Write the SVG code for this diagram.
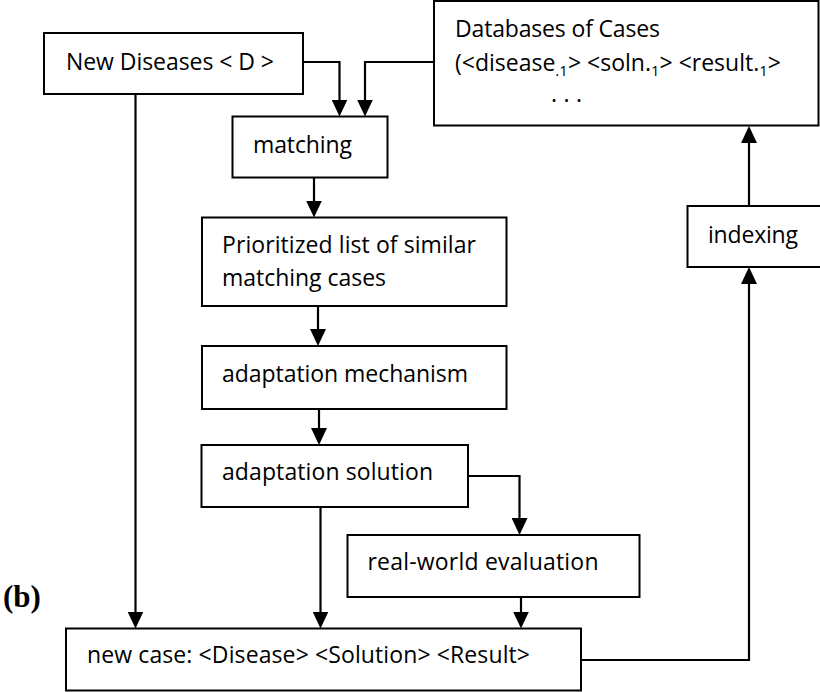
<svg xmlns="http://www.w3.org/2000/svg" width="820" height="692" viewBox="0 0 820 692">
<style>
  .box { fill: #ffffff; stroke: #000000; stroke-width: 2; }
  .lbl { font-family: "Open Sans", "Liberation Sans", sans-serif; font-size: 23px; fill: #000000; }
  .sub { font-size: 15px; }
  .conn { fill: none; stroke: #000000; stroke-width: 2.2; }
  .arr { marker-end: url(#ah); }
  .tag { font-family: "Liberation Serif", "Times New Roman", serif; font-weight: bold; font-size: 31px; fill: #000000; }
</style>
<defs>
  <marker id="ah" viewBox="0 0 17 16" markerWidth="17" markerHeight="16" refX="8" refY="8" orient="auto" markerUnits="userSpaceOnUse">
    <path d="M0,0 L17,8 L0,16 Z" fill="#000000"/>
  </marker>
</defs>
<rect width="820" height="692" fill="#ffffff"/>

<g id="connectors">
  <path class="conn arr" d="M303,62 H339.5 V107.5"/>
  <path class="conn arr" d="M434,62 H365 V107.5"/>
  <path class="conn arr" d="M314,177 V208.5"/>
  <path class="conn arr" d="M318,306 V337"/>
  <path class="conn arr" d="M319,409 V436"/>
  <path class="conn arr" d="M468,476 H519.5 V526"/>
  <path class="conn arr" d="M320.5,507 V619.5"/>
  <path class="conn arr" d="M135.5,94 V619.5"/>
  <path class="conn arr" d="M521,597 V619.5"/>
  <path class="conn arr" d="M581,660 H749 V276"/>
  <path class="conn arr" d="M749,206 V135"/>
</g>

<g id="new-diseases">
  <rect class="box" x="44" y="33" width="259" height="61"/>
  <text class="lbl" x="66" y="70" textLength="208">New Diseases &lt; D &gt;</text>
</g>

<g id="databases">
  <rect class="box" x="434" y="1" width="384.5" height="124.5"/>
  <text class="lbl" x="455" y="37" textLength="205">Databases of Cases</text>
  <text class="lbl" x="455" y="71">(&lt;disease<tspan class="sub" dy="5">.1</tspan><tspan dy="-5">&gt; &lt;soln.</tspan><tspan class="sub" dy="5">1</tspan><tspan dy="-5">&gt; &lt;result.</tspan><tspan class="sub" dy="5">1</tspan><tspan dy="-5">&gt;</tspan></text>
  <text class="lbl" x="551" y="102" textLength="31">. . .</text>
</g>

<g id="matching">
  <rect class="box" x="232.5" y="116.5" width="155" height="61"/>
  <text class="lbl" x="253" y="153" textLength="99">matching</text>
</g>

<g id="prioritized">
  <rect class="box" x="202" y="217.5" width="304.5" height="88.5"/>
  <text class="lbl" x="222" y="253" textLength="254">Prioritized list of similar</text>
  <text class="lbl" x="222" y="286" textLength="164">matching cases</text>
</g>

<g id="adaptation-mechanism">
  <rect class="box" x="202" y="346" width="304.5" height="63"/>
  <text class="lbl" x="222" y="381.5" textLength="246">adaptation mechanism</text>
</g>

<g id="adaptation-solution">
  <rect class="box" x="201.5" y="445" width="266.5" height="62"/>
  <text class="lbl" x="222" y="480" textLength="211">adaptation solution</text>
</g>

<g id="real-world-evaluation">
  <rect class="box" x="347.5" y="535" width="292" height="62"/>
  <text class="lbl" x="367.5" y="570" textLength="231">real-world evaluation</text>
</g>

<g id="new-case">
  <rect class="box" x="66" y="628.5" width="515" height="62"/>
  <text class="lbl" x="87" y="663" textLength="443">new case: &lt;Disease&gt; &lt;Solution&gt; &lt;Result&gt;</text>
</g>

<g id="indexing">
  <rect class="box" x="687.5" y="206" width="135" height="61"/>
  <text class="lbl" x="708" y="242.5" textLength="90">indexing</text>
</g>

<g id="label-b">
  <text class="tag" x="3" y="607">(b)</text>
</g>
</svg>
